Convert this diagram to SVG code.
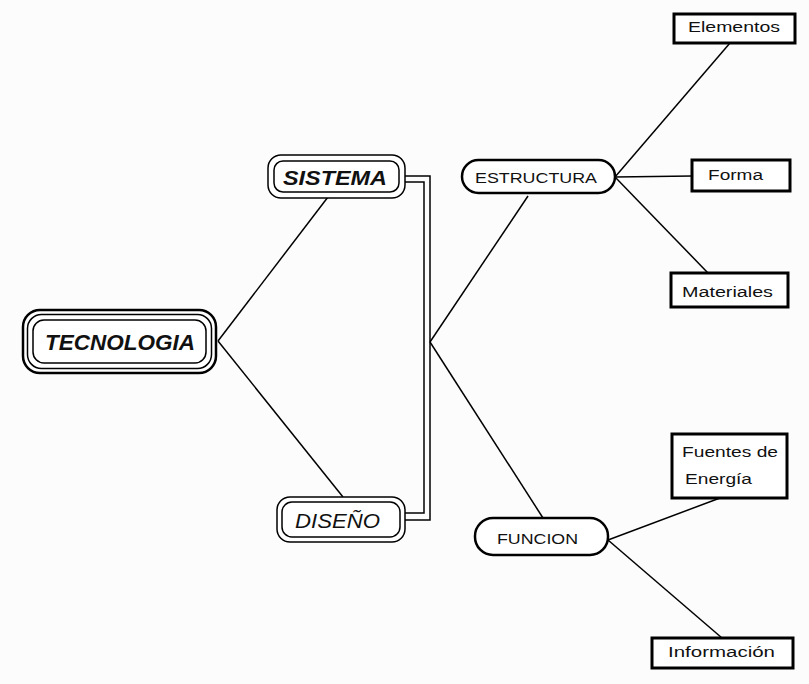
<svg xmlns="http://www.w3.org/2000/svg" width="809" height="684" viewBox="0 0 809 684">
<style>
.bg{fill:#fcfcfc}
.ln{fill:none;stroke:#000;stroke-width:1.5}
.dbl{fill:#fff;stroke:#000;stroke-width:1.5}
.pill{fill:#fff;stroke:#000;stroke-width:2.5}
.box{fill:#fff;stroke:#000;stroke-width:3}
.t{font-family:"Liberation Sans",Arial,sans-serif;fill:#111}
.bi{font-weight:bold;font-style:italic}
.it{font-style:italic}
</style>
<rect class="bg" x="0" y="0" width="809" height="684"/>
<g id="connectors">
<path class="ln" d="M218,341 L328,197"/>
<path class="ln" d="M218,341 L343,497"/>
<path class="ln" d="M405,176 H430 V520 H405"/>
<path class="ln" d="M405,182 H424 V513 H405"/>
<path class="ln" d="M430,342 L528,196"/>
<path class="ln" d="M430,342 L543,518"/>
<path class="ln" d="M615,177 L730,43"/>
<path class="ln" d="M615,177 L692,176"/>
<path class="ln" d="M615,177 L708,273"/>
<path class="ln" d="M608,540 L720,498"/>
<path class="ln" d="M608,540 L722,638"/>
</g>
<g id="tecnologia">
<rect x="23" y="310" width="193" height="63" rx="17" fill="#fff" stroke="#000" stroke-width="2.5"/>
<rect x="27.5" y="314.5" width="184" height="54" rx="14" fill="none" stroke="#000" stroke-width="1.5"/>
<rect x="33" y="320" width="173" height="43" rx="11" fill="none" stroke="#000" stroke-width="1.5"/>
<text class="t bi" x="45" y="350" font-size="22" textLength="150" lengthAdjust="spacingAndGlyphs">TECNOLOGIA</text>
</g>
<g id="sistema">
<rect class="dbl" x="268" y="155" width="137" height="43" rx="13"/>
<rect class="dbl" x="274" y="161" width="125" height="31" rx="9"/>
<text class="t bi" x="283" y="185" font-size="20" textLength="104" lengthAdjust="spacingAndGlyphs">SISTEMA</text>
</g>
<g id="diseno">
<rect class="dbl" x="277" y="497" width="128" height="45" rx="13"/>
<rect class="dbl" x="282" y="502" width="118" height="35" rx="10"/>
<text class="t it" x="295" y="528" font-size="21" textLength="85" lengthAdjust="spacingAndGlyphs">DISEÑO</text>
</g>
<g id="estructura">
<rect class="pill" x="462" y="160" width="153" height="33" rx="16.5"/>
<text class="t" x="475" y="183" font-size="15" textLength="122" lengthAdjust="spacingAndGlyphs">ESTRUCTURA</text>
</g>
<g id="funcion">
<rect class="pill" x="475" y="518" width="133" height="37" rx="18"/>
<text class="t" x="497" y="544" font-size="15" textLength="81" lengthAdjust="spacingAndGlyphs">FUNCION</text>
</g>
<g id="elementos">
<rect class="box" x="674" y="14" width="121" height="29"/>
<text class="t" x="688" y="32" font-size="14" textLength="92" lengthAdjust="spacingAndGlyphs">Elementos</text>
</g>
<g id="forma">
<rect class="box" x="692" y="160" width="98" height="31"/>
<text class="t" x="708" y="180" font-size="14" textLength="55" lengthAdjust="spacingAndGlyphs">Forma</text>
</g>
<g id="materiales">
<rect class="box" x="671" y="273" width="117" height="34"/>
<text class="t" x="682" y="297" font-size="14" textLength="91" lengthAdjust="spacingAndGlyphs">Materiales</text>
</g>
<g id="fuentes">
<rect class="box" x="672" y="434" width="115" height="64"/>
<text class="t" x="682" y="457" font-size="14" textLength="96" lengthAdjust="spacingAndGlyphs">Fuentes de</text>
<text class="t" x="685" y="484" font-size="14" textLength="67" lengthAdjust="spacingAndGlyphs">Energía</text>
</g>
<g id="informacion">
<rect class="box" x="652" y="638" width="141" height="30"/>
<text class="t" x="668" y="657" font-size="14" textLength="107" lengthAdjust="spacingAndGlyphs">Información</text>
</g>
</svg>
